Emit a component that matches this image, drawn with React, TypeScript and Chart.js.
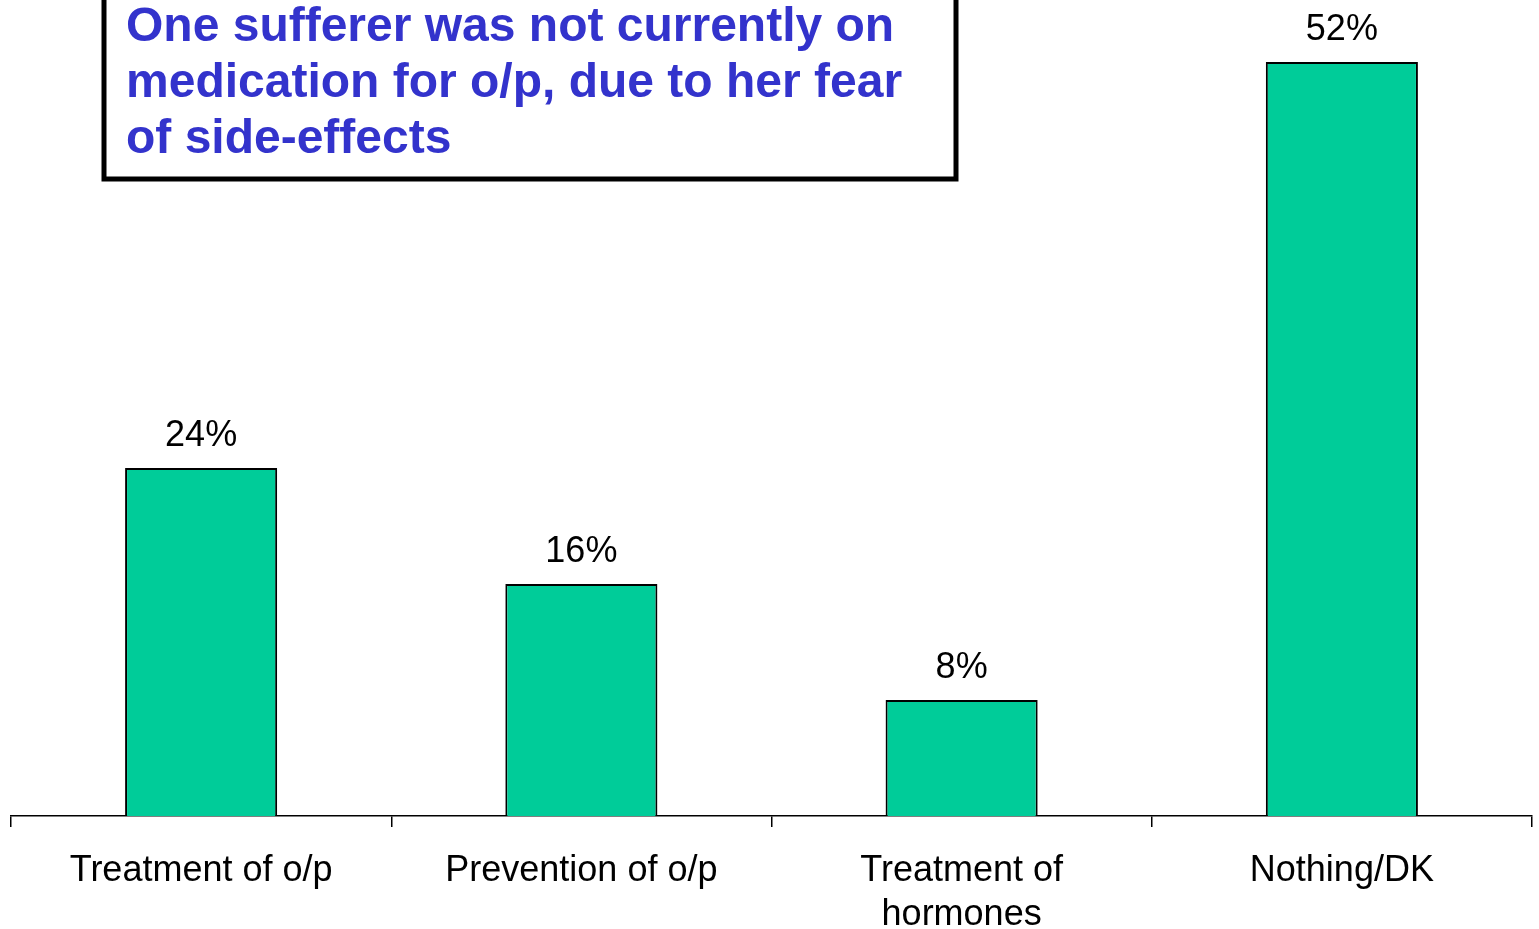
import React, { useEffect, useRef } from "react";
import { Chart, registerables } from "chart.js";

Chart.register(...registerables);

const categories: (string | string[])[] = [
  "Treatment of o/p",
  "Prevention of o/p",
  ["Treatment of", "hormones"],
  "Nothing/DK",
];
const values: number[] = [24, 16, 8, 52];
const valueLabels: string[] = ["24%", "16%", "8%", "52%"];
const noteLines: string[] = [
  "One sufferer was not currently on",
  "medication for o/p, due to her fear",
  "of side-effects",
];

const FONT = "'Liberation Sans', Arial, sans-serif";

const valueLabelPlugin = {
  id: "valueLabels",
  afterDatasetsDraw(chart: any) {
    const ctx = chart.ctx;
    const meta = chart.getDatasetMeta(0);
    ctx.save();
    ctx.font = `36px ${FONT}`;
    ctx.fillStyle = "#000";
    ctx.textAlign = "center";
    ctx.textBaseline = "alphabetic";
    meta.data.forEach((bar: any, i: number) => {
      ctx.fillText(valueLabels[i], bar.x, bar.y - 22);
    });
    ctx.restore();
  },
};

const noteBoxPlugin = {
  id: "noteBox",
  afterDraw(chart: any) {
    const ctx = chart.ctx;
    ctx.save();
    ctx.fillStyle = "#fff";
    ctx.fillRect(104, -10, 852, 189);
    ctx.lineWidth = 5;
    ctx.strokeStyle = "#000";
    ctx.strokeRect(104, -10, 852, 189);
    ctx.font = `bold 48px ${FONT}`;
    ctx.fillStyle = "#3333CC";
    ctx.textAlign = "left";
    ctx.textBaseline = "alphabetic";
    noteLines.forEach((line, i) => {
      ctx.fillText(line, 126, 41 + i * 56);
    });
    ctx.restore();
  },
};

export default function App() {
  const ref = useRef<HTMLCanvasElement | null>(null);
  useEffect(() => {
    document.body.style.margin = "0";
    if (!ref.current) return;
    const chart = new Chart(ref.current, {
      type: "bar",
      data: {
        labels: categories,
        datasets: [
          {
            data: values,
            backgroundColor: "#00CC99",
            borderColor: "#000",
            borderWidth: 2,
            categoryPercentage: 1,
            barPercentage: 0.4,
          },
        ],
      },
      options: {
        animation: false,
        responsive: false,
        maintainAspectRatio: false,
        layout: { padding: { top: 4, left: 11, right: 7, bottom: 0 } },
        plugins: { legend: { display: false }, tooltip: { enabled: false } },
        scales: {
          x: {
            offset: true,
            grid: {
              offset: true,
              drawOnChartArea: false,
              drawTicks: true,
              tickLength: 11,
              color: "#000",
              lineWidth: 1.5,
            },
            border: { display: true, color: "#000", width: 1.5 },
            ticks: {
              color: "#000",
              font: { family: FONT, size: 36, lineHeight: 1.22 },
              padding: 22,
              maxRotation: 0,
              autoSkip: false,
            },
            afterFit(scale: any) {
              scale.height = 113;
            },
          },
          y: {
            display: false,
            min: 0,
            max: 56,
          },
        },
      },
      plugins: [valueLabelPlugin, noteBoxPlugin],
    });
    return () => chart.destroy();
  }, []);
  return (
    <canvas
      ref={ref}
      width={1539}
      height={929}
      style={{ position: "absolute", left: 0, top: 0, width: 1539, height: 929 }}
    />
  );
}
